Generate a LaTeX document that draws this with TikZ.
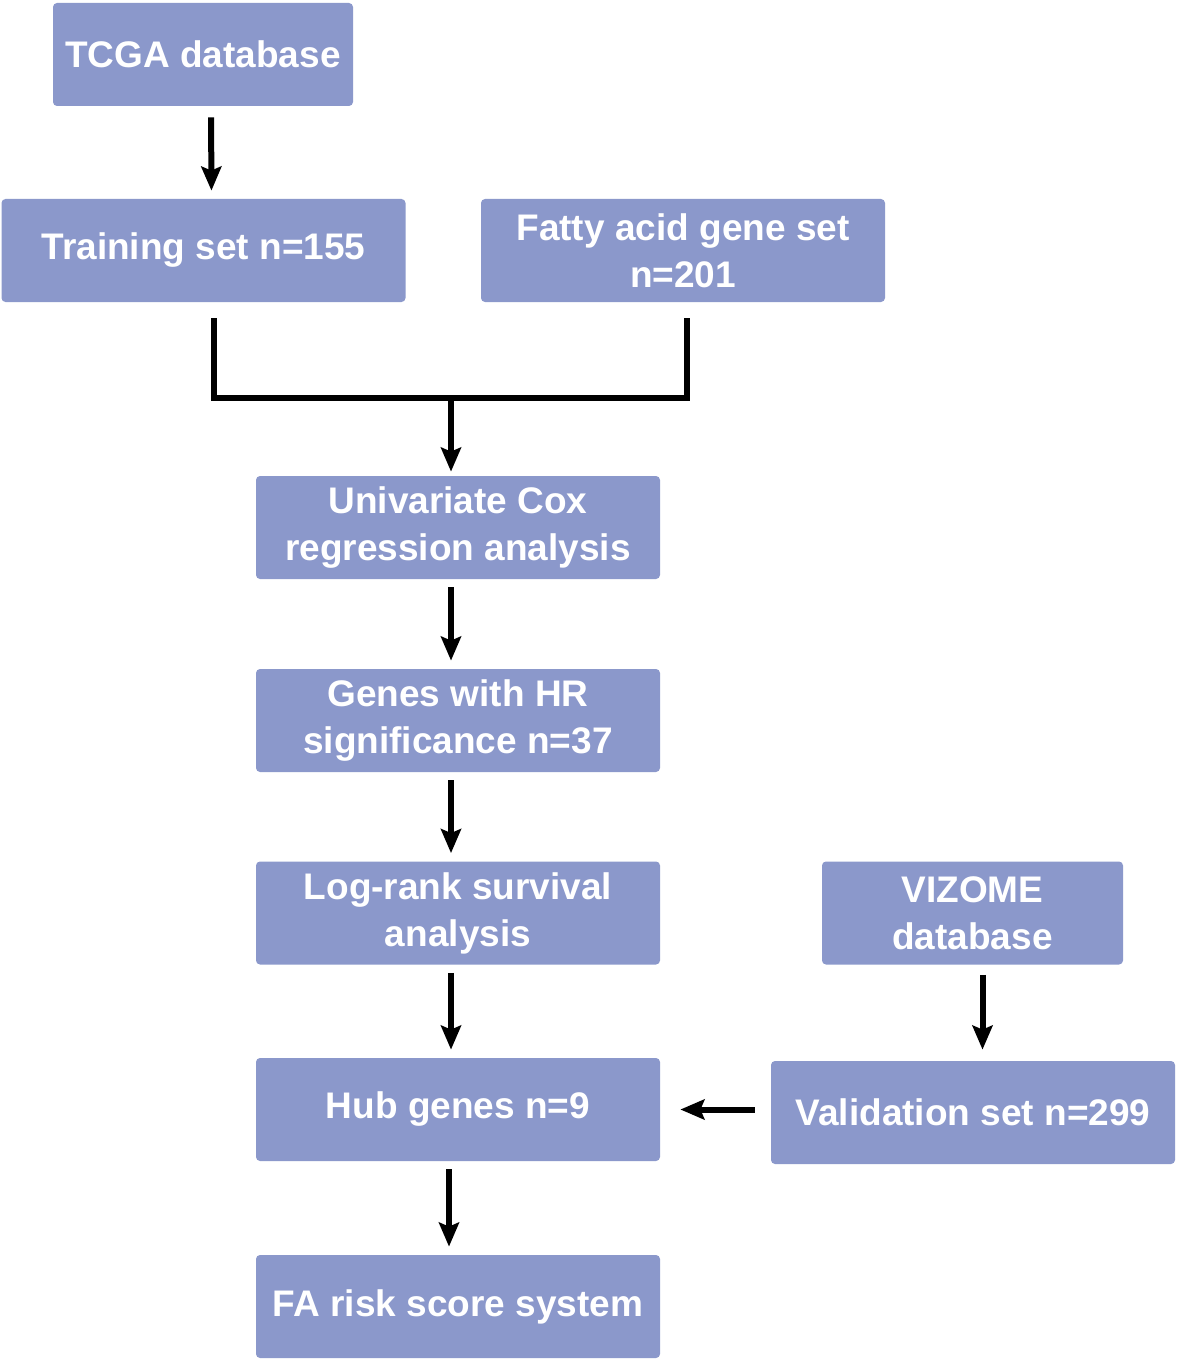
\documentclass[tikz,border=0pt]{standalone}
\usepackage{fontspec}
\setmainfont{Liberation Sans}
\usetikzlibrary{arrows.meta}
\definecolor{boxblue}{HTML}{8B98CB}
\tikzset{
	stagebox/.style={fill=boxblue, rounded corners=2pt, minimum width=202pt, minimum height=51.5pt,
		inner sep=0pt, text=white, align=center,
		font=\fontsize{18.5pt}{23.5pt}\selectfont\bfseries},
	arr/.style={line width=3pt, -{Stealth[length=12pt, width=10pt, inset=2pt]}, shorten <=4pt, shorten >=4pt},
	brk/.style={line width=3pt}
}
\begin{document}
\begin{tikzpicture}[x=0.5pt, y=-0.5pt]

		% frame
		\useasboundingbox (0,0) rectangle (1180,1364);

		% Left column
		\node[stagebox, minimum width=150pt] (tcga) at (203,54.5) {TCGA database};
		\node[stagebox] (train) at (203.5,250.5) {Training set n=155};
		\node[stagebox] (fatty) at (683,250.5) {Fatty acid gene set\\n=201};
		\node[stagebox] (uni) at (458,527.5) {Univariate Cox\\regression analysis};
		\node[stagebox] (genes) at (458,720.5) {Genes with HR\\significance n=37};
		\node[stagebox] (logrank) at (458,913) {Log-rank survival\\analysis};
		\node[stagebox] (hub) at (458,1109.5) {Hub genes n=9};
		\node[stagebox] (farisk) at (458,1306.5) {FA risk score system};

		% Right column
		\node[stagebox, minimum width=150.5pt] (vizome) at (972.5,913) {VIZOME\\database};
		\node[stagebox] (valid) at (973,1112.5) {Validation set n=299};

		% Arrows
		\draw[arr, shorten <=5.5pt] ([xshift=4pt]tcga.south) -- ([xshift=4pt]train.north);

		% Bracket
		\coordinate (join) at (451,398);
		\draw[brk] ([xshift=5pt,yshift=-8pt]train.south) |- (join) -| ([xshift=2pt,yshift=-8pt]fatty.south);
		\draw[arr, shorten <=0pt, shorten >=2pt] (join) -- (join |- uni.north);

		\draw[arr] ([xshift=-3.5pt]uni.south) -- ([xshift=-3.5pt]genes.north);
		\draw[arr] ([xshift=-3.5pt]genes.south) -- ([xshift=-3.5pt]logrank.north);
		\draw[arr] ([xshift=-3.5pt]logrank.south) -- ([xshift=-3.5pt]hub.north);
		\draw[arr] ([xshift=-4.5pt]hub.south) -- ([xshift=-4.5pt]farisk.north);

		\draw[arr, shorten <=5pt, shorten >=5.5pt] ([xshift=5pt]vizome.south) -- ([xshift=5pt]vizome.south |- valid.north);
		\draw[arr, shorten <=8pt, shorten >=10pt] (valid.west |- hub.east) -- (hub.east);

	\end{tikzpicture}
\end{document}
